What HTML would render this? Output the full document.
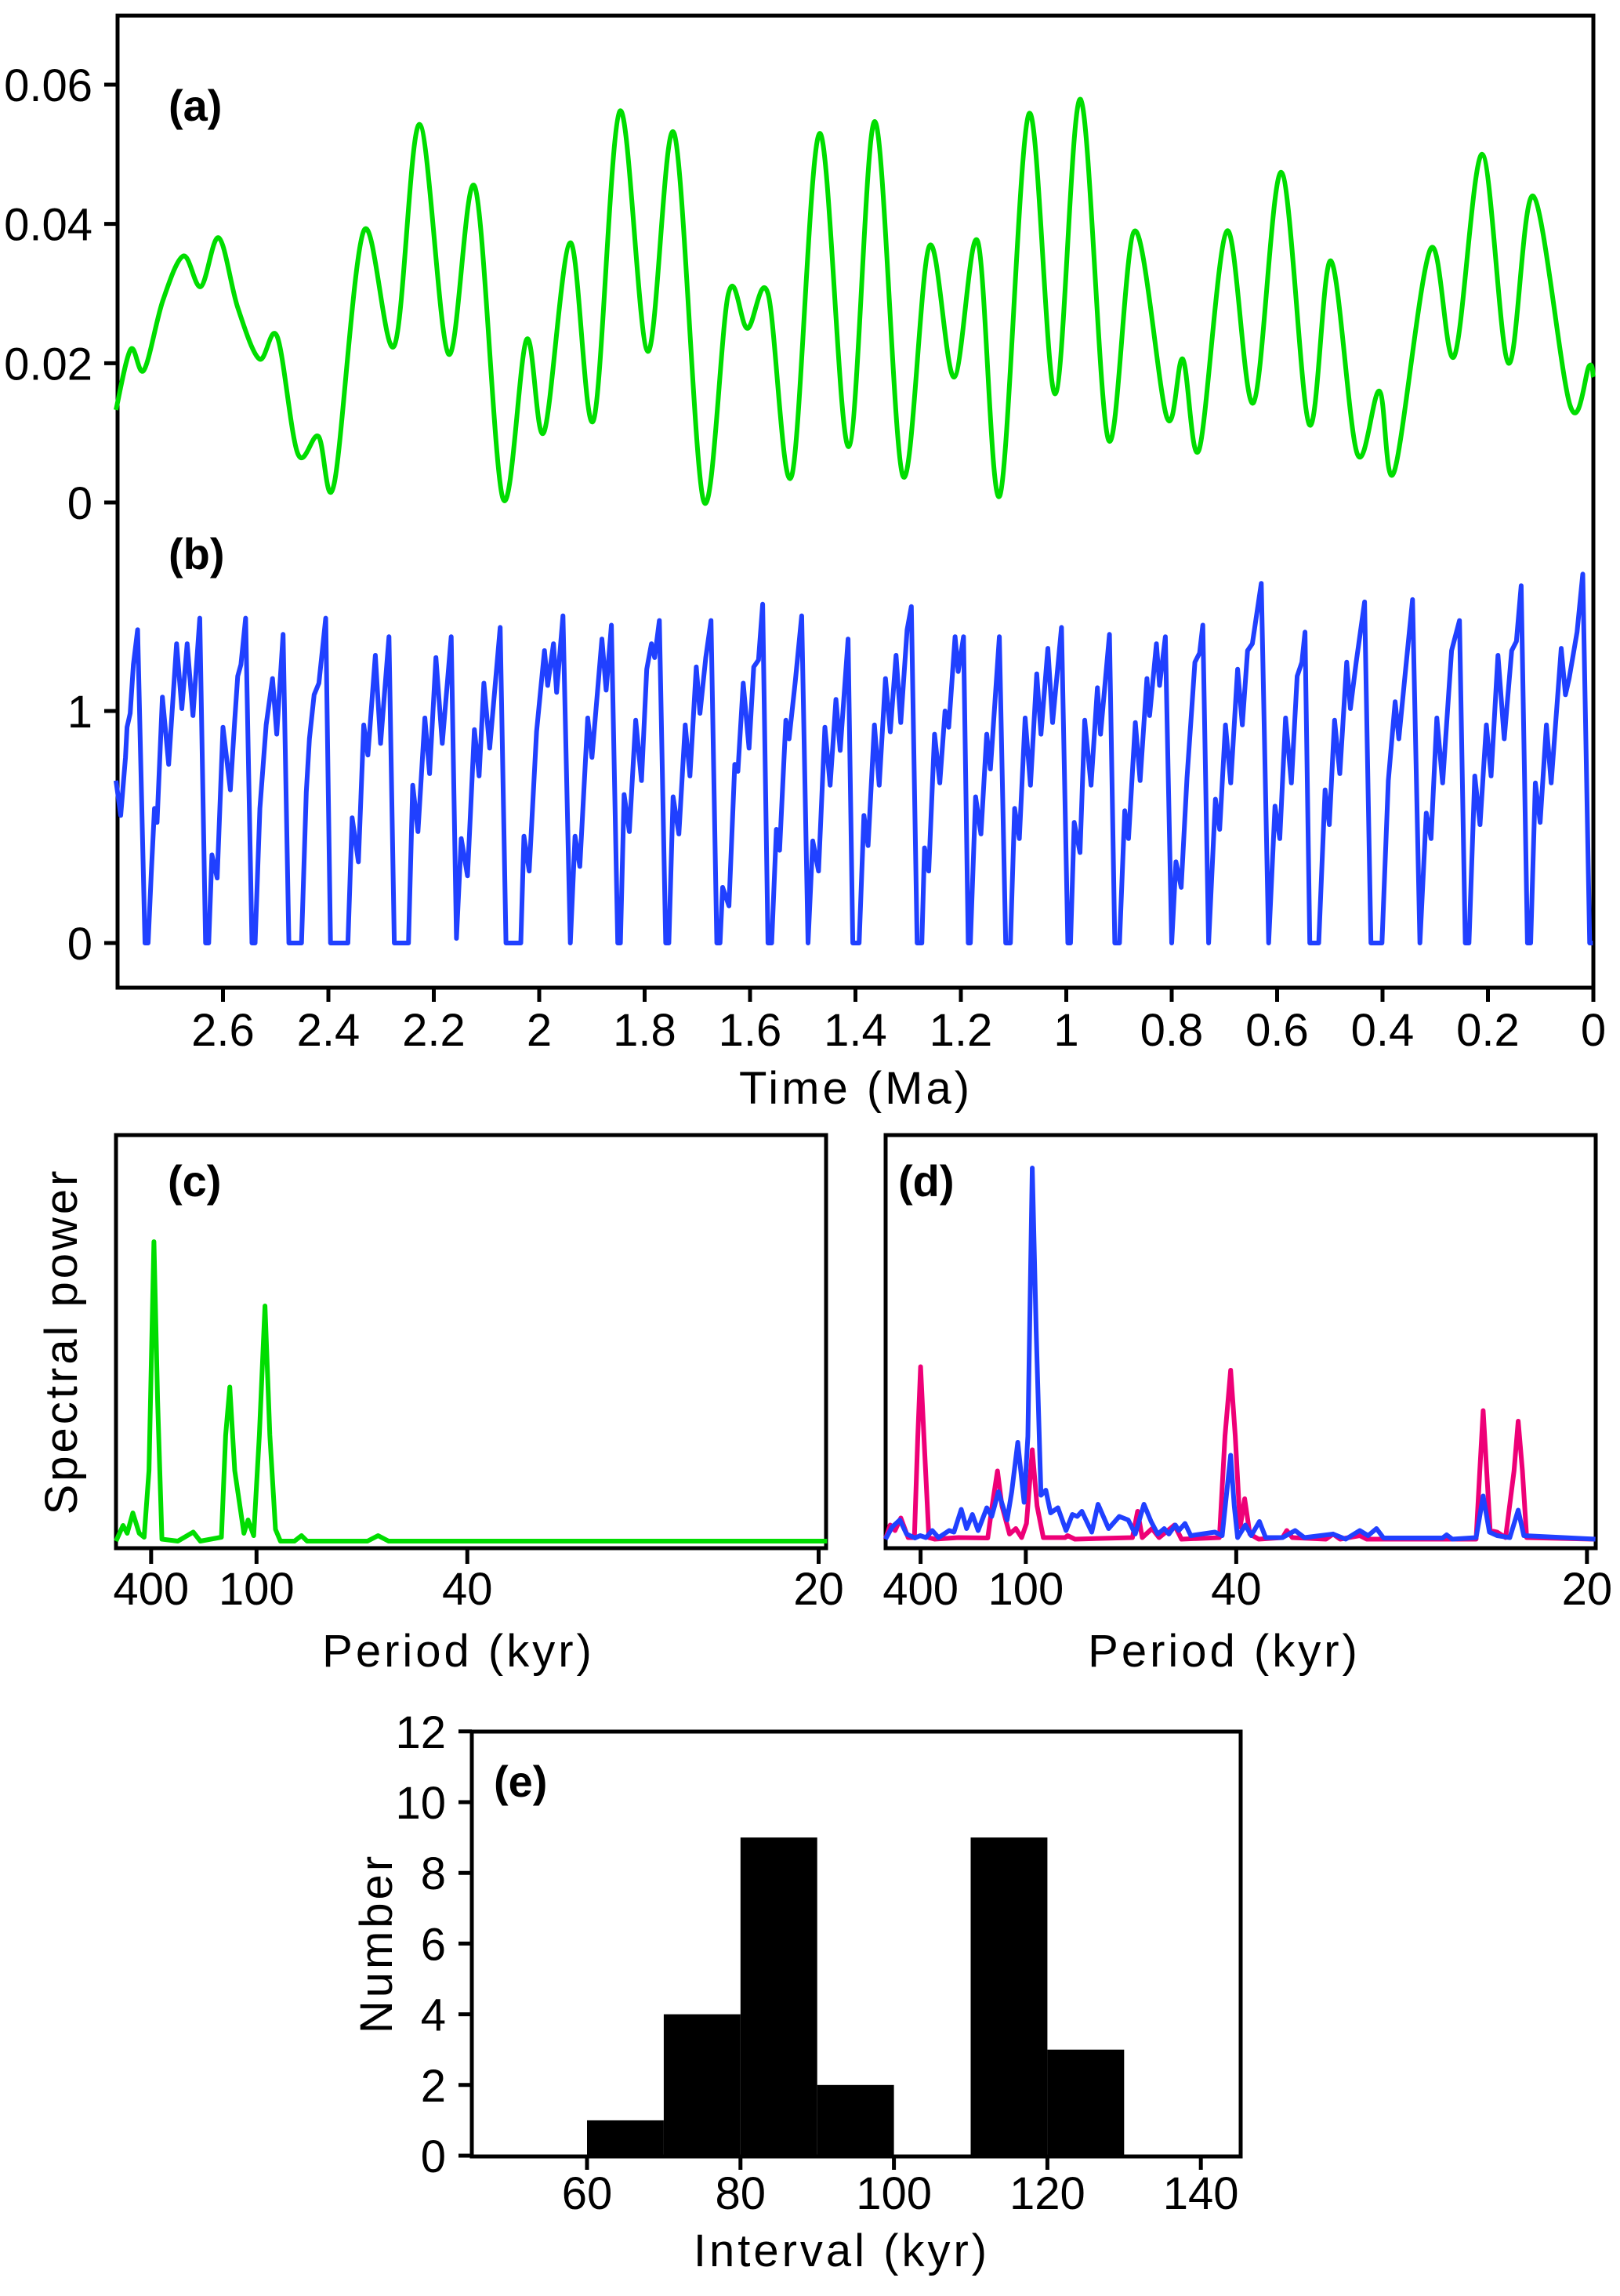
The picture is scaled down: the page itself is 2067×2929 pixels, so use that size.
<!DOCTYPE html>
<html><head><meta charset="utf-8"><style>
html,body{margin:0;padding:0;background:#fff;}
svg{display:block;}
text{font-family:"Liberation Sans",sans-serif;fill:#000;}
.tick{font-size:58px;}
.title{font-size:58px;letter-spacing:4px;}
.plab{font-size:56px;font-weight:bold;}
</style></head><body>
<svg id="fig" width="2067" height="2929" viewBox="0 0 2067 2929" xmlns="http://www.w3.org/2000/svg">
<g id="frames" fill="none" stroke="#000" stroke-width="5"></g>
<g id="marks"></g>
<g id="labels"></g>
</svg>
<script>
// ---------- Panel (a) data: time (Ma), value ----------
const aTime=[2.803,2.775,2.750,2.714,2.675,2.642,2.608,2.572,2.531,2.497,2.458,2.419,2.389,2.333,2.275,2.227,2.172,2.122,2.069,2.024,1.991,1.941,1.897,1.847,1.794,1.744,1.688,1.641,1.605,1.566,1.521,1.468,1.413,1.363,1.310,1.260,1.213,1.168,1.126,1.071,1.021,0.973,0.920,0.870,0.809,0.779,0.748,0.695,0.645,0.592,0.539,0.498,0.448,0.406,0.378,0.309,0.264,0.211,0.161,0.114,0.044,0.008,0.0];
const aVal=[0.0133,0.022,0.019,0.029,0.0354,0.031,0.038,0.028,0.0206,0.0238,0.007,0.0095,0.0027,0.039,0.0225,0.0543,0.0213,0.0453,0.0006,0.0234,0.0101,0.0373,0.0118,0.0562,0.0217,0.053,0.0002,0.030,0.025,0.030,0.0038,0.053,0.008,0.0547,0.0038,0.0368,0.018,0.0375,0.001,0.0558,0.0156,0.0579,0.009,0.039,0.0122,0.0206,0.0076,0.039,0.0143,0.0474,0.0112,0.0347,0.007,0.016,0.0044,0.0364,0.021,0.050,0.020,0.044,0.0139,0.0196,0.018];
const aTicks=[0,0.02,0.04,0.06];
const aTickLabels=["0","0.02","0.04","0.06"];
// ---------- Panel (b) data: time (kyr), value ----------
const bTime=[2803,2794,2785,2782,2776,2770,2762,2748,2742,2736,2730,2725,2715,2703,2688,2678,2668,2657,2644,2633,2627,2621,2611,2600,2586,2578,2572,2566,2557,2545,2539,2530,2518,2506,2498,2486,2475,2451,2442,2436,2427,2418,2405,2396,2363,2355,2343,2333,2325,2311,2301,2285,2275,2248,2240,2230,2217,2208,2196,2184,2167,2157,2148,2136,2123,2114,2105,2094,2074,2063,2035,2029,2019,2005,1990,1984,1973,1967,1955,1941,1932,1923,1908,1900,1881,1873,1863,1851,1846,1839,1829,1817,1806,1796,1787,1781,1772,1760,1754,1746,1735,1723,1714,1702,1695,1684,1674,1663,1657,1652,1640,1629,1623,1613,1602,1593,1584,1576,1566,1559,1550,1544,1532,1526,1514,1502,1490,1481,1470,1458,1448,1437,1429,1414,1405,1393,1384,1376,1364,1355,1343,1334,1323,1314,1302,1294,1283,1274,1269,1261,1250,1240,1230,1223,1211,1205,1195,1186,1182,1172,1162,1151,1144,1127,1115,1106,1098,1089,1078,1068,1056,1048,1035,1026,1009,997,992,985,974,965,953,941,935,918,908,899,889,882,869,860,847,842,829,823,812,800,792,782,771,762,756,747,741,730,717,709,698,688,675,666,656,647,630,616,604,595,584,573,562,553,547,538,521,509,501,491,481,468,461,450,434,422,401,389,376,369,357,343,329,317,308,297,286,269,254,243,236,225,215,203,194,181,169,155,146,137,125,119,110,101,89,80,61,53,46,31,20,7,1];
const bVal=[0.70,0.55,0.80,0.93,0.99,1.20,1.35,0,0,0.30,0.58,0.52,1.06,0.77,1.29,1.01,1.29,0.98,1.40,0,0,0.38,0.28,0.93,0.66,0.95,1.15,1.20,1.40,0,0,0.58,0.94,1.14,0.90,1.33,0,0,0.65,0.88,1.07,1.12,1.40,0,0,0.54,0.35,0.94,0.81,1.24,0.86,1.32,0,0,0.68,0.48,0.97,0.73,1.23,0.86,1.32,0.02,0.45,0.29,0.92,0.72,1.12,0.84,1.36,0,0,0.46,0.31,0.91,1.26,1.11,1.29,1.08,1.41,0,0.46,0.33,0.97,0.80,1.31,1.09,1.37,0,0,0.64,0.48,0.96,0.70,1.18,1.29,1.23,1.39,0,0,0.63,0.47,0.94,0.72,1.19,0.99,1.23,1.39,0,0,0.24,0.16,0.77,0.74,1.12,0.84,1.19,1.22,1.46,0,0,0.49,0.40,0.96,0.88,1.13,1.41,0,0.44,0.31,0.93,0.68,1.05,0.83,1.31,0,0,0.55,0.42,0.94,0.68,1.14,0.91,1.24,0.95,1.35,1.45,0,0,0.41,0.31,0.90,0.69,1.00,0.93,1.32,1.17,1.32,0,0,0.63,0.47,0.90,0.75,1.32,0,0,0.58,0.45,0.97,0.68,1.16,0.90,1.27,0.95,1.36,0,0,0.52,0.39,0.96,0.68,1.10,0.90,1.33,0,0,0.57,0.45,0.95,0.70,1.14,0.98,1.29,1.11,1.32,0,0.35,0.24,0.71,1.01,1.21,1.25,1.37,0,0.62,0.49,0.94,0.69,1.18,0.94,1.26,1.29,1.55,0,0.59,0.45,0.97,0.69,1.15,1.21,1.34,0,0,0.66,0.51,0.96,0.73,1.21,1.01,1.21,1.47,0,0,0.70,1.04,0.88,1.16,1.48,0,0.56,0.45,0.97,0.69,1.26,1.39,0,0,0.72,0.51,0.94,0.72,1.24,0.88,1.26,1.30,1.54,0,0,0.69,0.52,0.94,0.69,1.27,1.07,1.14,1.34,1.59,0,0];
const bTicks=[0,1];
const timeTicks=[2.6,2.4,2.2,2,1.8,1.6,1.4,1.2,1,0.8,0.6,0.4,0.2,0];
const timeTickLabels=["2.6","2.4","2.2","2","1.8","1.6","1.4","1.2","1","0.8","0.6","0.4","0.2","0"];
// ---------- Panel (c) spectrum: frequency (cycles/Myr), power ----------
const cFreq=[0,0.5,0.8,1.2,1.65,2.0,2.35,2.7,2.96,3.27,4.4,5.5,6.0,7.5,7.8,8.1,8.45,9.1,9.4,9.8,10.2,10.6,10.95,11.35,11.7,12.7,13.2,13.6,17.9,18.65,19.4,50.6];
const cPow=[0,0.04,0.02,0.072,0.02,0.01,0.18,0.764,0.358,0.005,0,0.023,0,0.01,0.27,0.393,0.18,0.02,0.054,0.014,0.27,0.6,0.27,0.03,0,0,0.014,0,0,0.014,0,0];
// ---------- Panel (d) spectra ----------
const dPinkFreq=[0,0.33,0.68,1.09,1.61,2.06,2.3,2.5,2.74,3.09,3.5,5.2,7.29,7.6,7.98,8.3,8.84,9.29,9.7,10.05,10.46,10.8,11.25,12.8,12.98,13.5,17.6,17.97,18.3,19.0,19.5,20.6,21.1,23.8,24.2,24.6,24.93,25.28,25.6,25.97,26.6,28.3,28.6,29.0,31.4,31.9,32.4,33.8,34.3,42.1,42.36,42.6,42.85,43.1,43.6,44.2,44.8,45.1,45.4,45.7,50.6];
const dPinkPow=[0,0.036,0.022,0.054,0.004,0.004,0.26,0.44,0.26,0.004,0,0.004,0.003,0.085,0.174,0.085,0.013,0.027,0.004,0.04,0.228,0.085,0.004,0.004,0.009,0,0.004,0.071,0.004,0.027,0.004,0.036,0,0.004,0.263,0.431,0.263,0.031,0.103,0.013,0,0.004,0.022,0.004,0,0.013,0,0.009,0,0,0.174,0.328,0.174,0.022,0.018,0.004,0.174,0.301,0.174,0.004,0];
const dBlueFreq=[0,0.47,1.02,1.5,2.1,2.47,2.88,3.33,3.78,4.54,4.88,5.4,5.78,6.19,6.6,7.22,7.57,8.05,8.67,9.0,9.43,9.88,10.15,10.46,10.74,11.08,11.43,11.77,12.29,12.87,13.32,13.67,14.0,14.7,15.15,15.9,16.66,17.3,17.8,18.42,18.93,19.4,19.87,20.2,20.66,20.9,21.35,21.76,23.48,24.0,24.35,24.6,24.86,25.1,25.65,26.07,26.65,27.1,28.3,29.2,29.86,31.9,32.8,33.8,34.4,35.0,35.5,39.7,40.0,40.4,42.1,42.6,43.05,43.6,44.5,45.1,45.5,50.6];
const dBluePow=[0,0.031,0.049,0.013,0.003,0.009,0.004,0.022,0.004,0.022,0.018,0.076,0.027,0.063,0.022,0.080,0.058,0.121,0.049,0.121,0.247,0.094,0.263,0.947,0.531,0.112,0.125,0.067,0.080,0.022,0.063,0.058,0.071,0.018,0.089,0.027,0.058,0.049,0.013,0.089,0.045,0.013,0.027,0.013,0.036,0.022,0.040,0.009,0.018,0.009,0.129,0.214,0.085,0.004,0.036,0.009,0.045,0.004,0.004,0.022,0.004,0.013,0,0.022,0.009,0.027,0.003,0.003,0.011,0,0.004,0.110,0.018,0.009,0.004,0.074,0.009,0];
const specTicks=[2.5,10,25,50];
const specTickLabels=["400","100","40","20"];
// ---------- Panel (e) histogram ----------
const eBinStart=[60,70,80,90,100,110,120];
const eCounts=[1,4,9,2,0,9,3];
const eYTicks=[0,2,4,6,8,10,12];
const eXTicks=[60,80,100,120,140];

const NS="http://www.w3.org/2000/svg";
const frames=document.getElementById('frames');
const marks=document.getElementById('marks');
const labels=document.getElementById('labels');
function mk(tag,parent,attrs){const e=document.createElementNS(NS,tag);for(const k in attrs)e.setAttribute(k,attrs[k]);parent.appendChild(e);return e;}
function txt(s,x,y,anchor,cls,name,rot){const t=mk('text',labels,{x:x,y:y,'text-anchor':anchor,'class':cls});


if(rot)t.setAttribute('transform','rotate(-90 '+x+' '+y+')');t.textContent=s;return t;}

const xTime=t=>2033-t*672.5;
const yA=v=>641-v*8883;
const yB=v=>1203-v*296;
const xC=f=>148+f*17.93;
const xD=f=>1174.6+(f-2.5)*17.9;
const ySpecC=p=>1966-p*500;
const ySpecD=p=>1963.5-p*500;
const xE=k=>749+(k-60)*9.79;
const yE=n=>2750-n*45.1;

let r;
r=mk('rect',frames,{x:150,y:20,width:1883,height:1240});


r=mk('rect',frames,{x:148,y:1448,width:906,height:527});


r=mk('rect',frames,{x:1130,y:1448,width:906,height:527});


r=mk('rect',frames,{x:602,y:2209,width:981,height:542});



function tickLine(x1,y1,x2,y2,name){const l=mk('line',frames,{x1:x1,y1:y1,x2:x2,y2:y2});

}

aTicks.forEach((v,i)=>{tickLine(133,yA(v),150,yA(v),'a-y-tick');txt(aTickLabels[i],118,yA(v)+21,'end','tick','a-y-tick-label');});
bTicks.forEach(v=>{tickLine(133,yB(v),150,yB(v),'b-y-tick');txt(String(v),118,yB(v)+21,'end','tick','b-y-tick-label');});
timeTicks.forEach((t,i)=>{tickLine(xTime(t),1260,xTime(t),1278,'time-tick');txt(timeTickLabels[i],xTime(t),1334,'middle','tick','time-tick-label');});
txt('Time (Ma)',1092,1408,'middle','title','x-axis-title-time');
txt('(a)',215,154,'start','plab','panel-a-label');
txt('(b)',215,726,'start','plab','panel-b-label');

specTicks.forEach((f,i)=>{tickLine(xC(f),1975,xC(f),1995,'c-x-tick');txt(specTickLabels[i],xC(f),2047,'middle','tick','c-x-tick-label');
tickLine(xD(f),1975,xD(f),1995,'d-x-tick');txt(specTickLabels[i],xD(f),2047,'middle','tick','d-x-tick-label');});
txt('Period (kyr)',585,2126,'middle','title','x-axis-title-c');
txt('Period (kyr)',1562,2126,'middle','title','x-axis-title-d');
txt('Spectral power',98,1711,'middle','title','y-axis-title-spectral',true);
txt('(c)',214,1526,'start','plab','panel-c-label');
txt('(d)',1146,1526,'start','plab','panel-d-label');

eYTicks.forEach(n=>{tickLine(585,yE(n),602,yE(n),'e-y-tick');txt(String(n),569,yE(n)+21,'end','tick','e-y-tick-label');});
eXTicks.forEach(k=>{tickLine(xE(k),2751,xE(k),2768,'e-x-tick');txt(String(k),xE(k),2818,'middle','tick','e-x-tick-label');});
txt('Interval (kyr)',1074,2891,'middle','title','x-axis-title-interval');
txt('Number',500,2479,'middle','title','y-axis-title-number',true);
txt('(e)',630,2292,'start','plab','panel-e-label');

function smooth(pts){let d='M'+pts[0][0].toFixed(1)+','+pts[0][1].toFixed(1);
for(let i=0;i<pts.length-1;i++){const p0=pts[Math.max(0,i-1)],p1=pts[i],p2=pts[i+1],p3=pts[Math.min(pts.length-1,i+2)];
const c1=[p1[0]+(p2[0]-p0[0])/6,p1[1]+(p2[1]-p0[1])/6],c2=[p2[0]-(p3[0]-p1[0])/6,p2[1]-(p3[1]-p1[1])/6];
d+=' C'+c1[0].toFixed(1)+','+c1[1].toFixed(1)+' '+c2[0].toFixed(1)+','+c2[1].toFixed(1)+' '+p2[0].toFixed(1)+','+p2[1].toFixed(1);}return d;}
function poly(pts){return pts.map(p=>p[0].toFixed(1)+','+p[1].toFixed(1)).join(' ');}

let p;
p=mk('path',marks,{d:smooth(aTime.map((t,i)=>[xTime(t),yA(aVal[i])])),fill:'none',stroke:'#00dd00','stroke-width':6,'stroke-linejoin':'round'});


p=mk('polyline',marks,{points:poly(bTime.map((t,i)=>[xTime(t/1000),yB(bVal[i])])),fill:'none',stroke:'#2040ff','stroke-width':6,'stroke-linejoin':'round'});


p=mk('polyline',marks,{points:poly(cFreq.map((f,i)=>[xC(f),ySpecC(cPow[i])])),fill:'none',stroke:'#00dd00','stroke-width':6,'stroke-linejoin':'round'});


p=mk('polyline',marks,{points:poly(dPinkFreq.map((f,i)=>[xD(f),ySpecD(dPinkPow[i])])),fill:'none',stroke:'#ee0077','stroke-width':6,'stroke-linejoin':'round'});


p=mk('polyline',marks,{points:poly(dBlueFreq.map((f,i)=>[xD(f),ySpecD(dBluePow[i])])),fill:'none',stroke:'#2040ff','stroke-width':6,'stroke-linejoin':'round'});



eBinStart.forEach((k,i)=>{if(eCounts[i]<=0)return;
const b=mk('rect',marks,{x:xE(k),y:yE(eCounts[i]),width:xE(k+10)-xE(k),height:yE(0)-yE(eCounts[i]),fill:'#000'});

});
</script>
</body></html>
